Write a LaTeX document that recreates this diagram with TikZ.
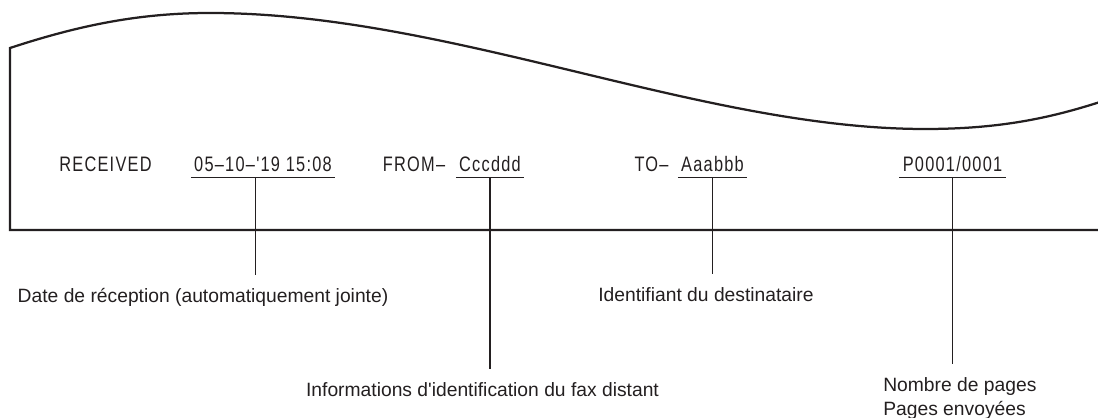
\documentclass[tikz,border=0pt]{standalone}
\usepackage{fontspec}
\setmainfont{Liberation Sans}[Ligatures=TeXOff]
\newfontfamily\faxfont[FakeStretch=0.78,LetterSpace=6]{Liberation Sans}
\usepackage{tikz}
\usetikzlibrary{positioning,calc}
\definecolor{FaxInk}{HTML}{231F20}

\begin{document}
\begin{tikzpicture}[
    x=0.025cm, y=-0.025cm,
    field/.style={
      font=\faxfont\fontsize{14.9pt}{17pt}\selectfont,
      text=FaxInk,
      text depth=0pt,
      inner xsep=0.075cm,
      inner ysep=0.125cm,
      anchor=base
    },
    uline/.style={
      draw=FaxInk,
      line width=0.7pt
    },
    lead/.style={
      draw=FaxInk,
      line width=0.9pt
    },
    frame/.style={
      draw=FaxInk,
      line width=1.6pt
    },
    note/.style={
      font=\fontsize{13.7pt}{16.4pt}\selectfont,
      text=FaxInk,
      text height=0.35cm,
      text depth=0.1cm,
      inner xsep=0pt,
      inner ysep=0.35cm,
      anchor=base
    }
  ]
  \useasboundingbox (0,0) rectangle (1098,418);

  % Fax sheet edge
  \draw[frame] (1098,230) -- (10,230) -- (10,48)
    .. controls (80,25) and (140,13) .. (210,13)
    .. controls (450,13) and (700,129) .. (925,129)
    .. controls (1000,129) and (1050,118) .. (1100,102);

  % Header line
  \node[field] (recv) at (105.5,172) {RECEIVED};
  \node[field] (date) at (263,172) {05\textendash10\textendash'19 15:08};
  \node[field] (from) at (414,172) {FROM\textendash};
  \node[field] (sender) at (490,172) {Cccddd};
  \node[field] (to) at (651.5,172) {TO\textendash};
  \node[field] (dest) at (712.5,172) {Aaabbb};
  \node[field] (pages) at (952.5,172) {P0001/0001};

  % Underlines
  \draw[uline] (date.south west) -- (date.south east);
  \draw[uline] (sender.south west) -- (sender.south east);
  \draw[uline] (dest.south west) -- (dest.south east);
  \draw[uline] (pages.south west) -- (pages.south east);

  % Explanations
  \node[note] (datelab) at (203,303) {Date de réception (automatiquement jointe)};
  \node[note] (senderlab) at (482.5,397) {Informations d'identification du fax distant};
  \node[note] (destlab) at (706,302) {Identifiant du destinataire};
  \node[note,anchor=base west,align=left,text height=0.925cm] (pageslab) at (883,415)
    {Nombre de pages\\Pages envoyées};

  % Leaders
  \coordinate (dateul) at ($(date.south west)!0.45!(date.south east)$);
  \draw[lead] (dateul) -- (dateul |- datelab.north);
  \draw[lead] (sender.south) -- (sender.south |- senderlab.north);
  \draw[lead] (dest.south) -- (dest.south |- destlab.north);
  \draw[lead] (pages.south) -- (pages.south |- pageslab.north);
\end{tikzpicture}
\end{document}
